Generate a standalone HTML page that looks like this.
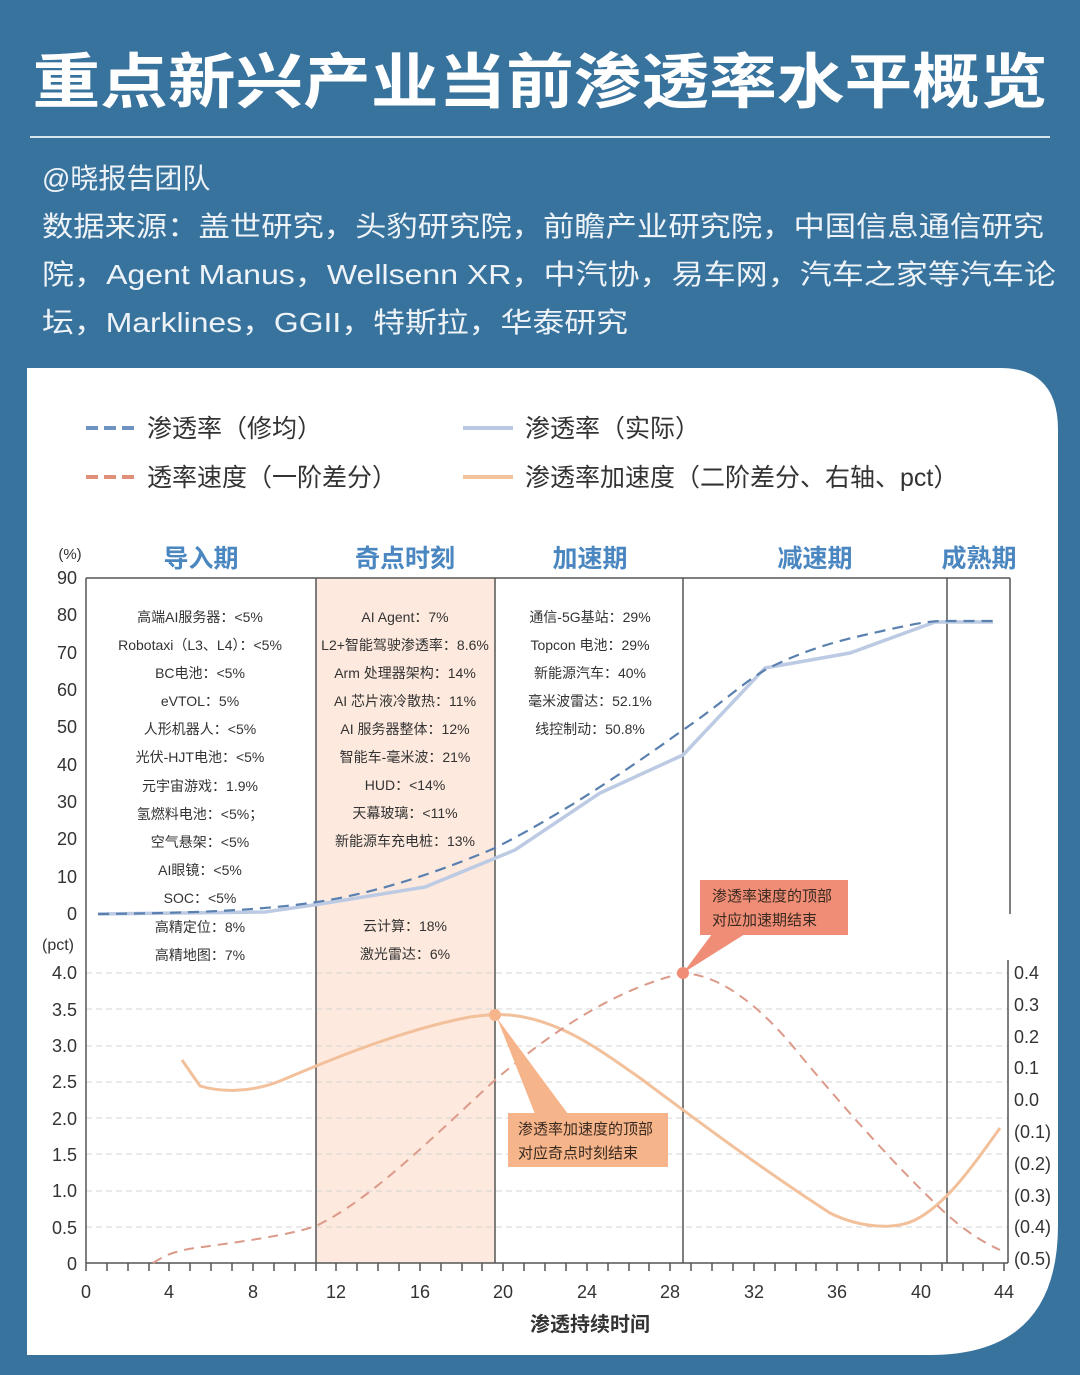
<!DOCTYPE html>
<html><head><meta charset="utf-8"><style>
html,body{margin:0;padding:0;background:#38739e;}
svg{display:block;font-family:"Liberation Sans","Noto Sans CJK SC",sans-serif;}
</style></head><body>
<svg width="1080" height="1375" viewBox="0 0 1080 1375" xmlns="http://www.w3.org/2000/svg">
<rect width="1080" height="1375" fill="#38739e"/>
<text x="540" y="103" text-anchor="middle" font-size="60" font-weight="bold" fill="#fff" textLength="1015" lengthAdjust="spacingAndGlyphs">重点新兴产业当前渗透率水平概览</text>
<line x1="30" y1="137" x2="1050" y2="137" stroke="#d8e4ee" stroke-width="2"/>
<g font-size="28" fill="#eef3f8">
<text x="42" y="188">@晓报告团队</text>
<text x="42" y="236" textLength="1002" lengthAdjust="spacingAndGlyphs">数据来源：盖世研究，头豹研究院，前瞻产业研究院，中国信息通信研究</text>
<text x="42" y="284" textLength="1014" lengthAdjust="spacingAndGlyphs">院，Agent Manus，Wellsenn XR，中汽协，易车网，汽车之家等汽车论</text>
<text x="42" y="332" textLength="586" lengthAdjust="spacingAndGlyphs">坛，Marklines，GGII，特斯拉，华泰研究</text>
</g>
<path d="M27 368 H1000 Q1058 368 1058 430 V1225 Q1058 1355 930 1355 H27 Z" fill="#fff"/>
<!-- legend -->
<g stroke-width="4">
<line x1="86" y1="428" x2="136" y2="428" stroke="#6f93c0" stroke-dasharray="12,6"/>
<line x1="86" y1="477" x2="136" y2="477" stroke="#e09078" stroke-dasharray="12,6"/>
<line x1="463" y1="428" x2="513" y2="428" stroke="#b9c8e2"/>
<line x1="463" y1="477" x2="513" y2="477" stroke="#f2c49e"/>
</g>
<g font-size="25" fill="#333">
<text x="147" y="437">渗透率（修均）</text>
<text x="147" y="486">透率速度（一阶差分）</text>
<text x="525" y="437">渗透率（实际）</text>
<text x="525" y="486">渗透率加速度（二阶差分、右轴、pct）</text>
</g>
<!-- phase titles -->
<g font-size="25" font-weight="bold" fill="#4a86c0" text-anchor="middle">
<text x="201" y="567">导入期</text><text x="405" y="567">奇点时刻</text><text x="590" y="567">加速期</text><text x="815" y="567">减速期</text><text x="979" y="567">成熟期</text>
</g>
<rect x="316" y="578" width="179" height="685" fill="#fde9dd"/>
<!-- grid lower -->
<g stroke="#d5d5d5" stroke-dasharray="6,4" stroke-width="1">
<line x1="86" y1="973" x2="1008" y2="973"/><line x1="86" y1="1009" x2="1008" y2="1009"/><line x1="86" y1="1046" x2="1008" y2="1046"/><line x1="86" y1="1082" x2="1008" y2="1082"/><line x1="86" y1="1118" x2="1008" y2="1118"/><line x1="86" y1="1154" x2="1008" y2="1154"/><line x1="86" y1="1191" x2="1008" y2="1191"/><line x1="86" y1="1227" x2="1008" y2="1227"/>
</g>
<!-- frame -->
<g stroke="#555" stroke-width="1.5" fill="none">
<line x1="86" y1="578" x2="1010" y2="578"/>
<line x1="1010" y1="578" x2="1010" y2="914"/>
<line x1="86" y1="578" x2="86" y2="1263"/>
<line x1="1008" y1="960" x2="1008" y2="1263"/>
<line x1="86" y1="1263" x2="1008" y2="1263"/>
<line x1="316" y1="578" x2="316" y2="1263"/>
<line x1="495" y1="578" x2="495" y2="1263"/>
<line x1="683" y1="578" x2="683" y2="1263"/>
<line x1="947" y1="578" x2="947" y2="1263"/>
</g>
<g stroke="#555" stroke-width="1.5" id="ticks">
<path d="M86 1263v8M107 1263v8M128 1263v8M149 1263v8M169 1263v8M190 1263v8M211 1263v8M232 1263v8M253 1263v8M274 1263v8M295 1263v8M316 1263v8M336 1263v8M357 1263v8M378 1263v8M399 1263v8M420 1263v8M441 1263v8M462 1263v8M482 1263v8M503 1263v8M524 1263v8M545 1263v8M566 1263v8M587 1263v8M608 1263v8M629 1263v8M649 1263v8M670 1263v8M691 1263v8M712 1263v8M733 1263v8M754 1263v8M775 1263v8M796 1263v8M816 1263v8M837 1263v8M858 1263v8M879 1263v8M900 1263v8M921 1263v8M942 1263v8M963 1263v8M983 1263v8M1004 1263v8"/>
</g>
<!-- axis labels -->
<g font-size="18" fill="#333" text-anchor="end">
<text x="77" y="584">90</text><text x="77" y="621">80</text><text x="77" y="659">70</text><text x="77" y="696">60</text><text x="77" y="733">50</text><text x="77" y="771">40</text><text x="77" y="808">30</text><text x="77" y="845">20</text><text x="77" y="883">10</text><text x="77" y="920">0</text>
<text x="77" y="979">4.0</text><text x="77" y="1016">3.5</text><text x="77" y="1052">3.0</text><text x="77" y="1088">2.5</text><text x="77" y="1125">2.0</text><text x="77" y="1161">1.5</text><text x="77" y="1197">1.0</text><text x="77" y="1234">0.5</text><text x="77" y="1270">0</text>
</g>
<text x="70" y="559" font-size="15" fill="#333" text-anchor="middle">(%)</text>
<text x="58" y="950" font-size="16" fill="#333" text-anchor="middle">(pct)</text>
<g font-size="18" fill="#333">
<text x="1014" y="979">0.4</text><text x="1014" y="1011">0.3</text><text x="1014" y="1043">0.2</text><text x="1014" y="1074">0.1</text><text x="1014" y="1106">0.0</text><text x="1014" y="1138">(0.1)</text><text x="1014" y="1170">(0.2)</text><text x="1014" y="1202">(0.3)</text><text x="1014" y="1233">(0.4)</text><text x="1014" y="1265">(0.5)</text>
</g>
<g font-size="18" fill="#333" text-anchor="middle">
<text x="86" y="1298">0</text><text x="169" y="1298">4</text><text x="253" y="1298">8</text><text x="336" y="1298">12</text><text x="420" y="1298">16</text><text x="503" y="1298">20</text><text x="587" y="1298">24</text><text x="670" y="1298">28</text><text x="754" y="1298">32</text><text x="837" y="1298">36</text><text x="921" y="1298">40</text><text x="1004" y="1298">44</text>
</g>
<text x="590" y="1331" font-size="20" font-weight="bold" fill="#333" text-anchor="middle">渗透持续时间</text>
<!-- list text -->
<g font-size="14" fill="#333" text-anchor="middle">
<text x="200" y="622">高端AI服务器：&lt;5%</text>
<text x="200" y="650">Robotaxi（L3、L4）：&lt;5%</text>
<text x="200" y="678">BC电池：&lt;5%</text>
<text x="200" y="706">eVTOL：5%</text>
<text x="200" y="734">人形机器人：&lt;5%</text>
<text x="200" y="762">光伏-HJT电池：&lt;5%</text>
<text x="200" y="791">元宇宙游戏：1.9%</text>
<text x="200" y="819">氢燃料电池：&lt;5%；</text>
<text x="200" y="847">空气悬架：&lt;5%</text>
<text x="200" y="875">AI眼镜：&lt;5%</text>
<text x="200" y="903">SOC：&lt;5%</text>
<text x="200" y="932">高精定位：8%</text>
<text x="200" y="960">高精地图：7%</text>
<text x="405" y="622">AI Agent：7%</text>
<text x="405" y="650">L2+智能驾驶渗透率：8.6%</text>
<text x="405" y="678">Arm 处理器架构：14%</text>
<text x="405" y="706">AI 芯片液冷散热：11%</text>
<text x="405" y="734">AI 服务器整体：12%</text>
<text x="405" y="762">智能车-毫米波：21%</text>
<text x="405" y="790">HUD：&lt;14%</text>
<text x="405" y="818">天幕玻璃：&lt;11%</text>
<text x="405" y="846">新能源车充电桩：13%</text>
<text x="405" y="931">云计算：18%</text>
<text x="405" y="959">激光雷达：6%</text>
<text x="590" y="622">通信-5G基站：29%</text>
<text x="590" y="650">Topcon 电池：29%</text>
<text x="590" y="678">新能源汽车：40%</text>
<text x="590" y="706">毫米波雷达：52.1%</text>
<text x="590" y="734">线控制动：50.8%</text>
</g>
<!-- curves upper -->
<path d="M98 914 L265 912 L320 904 L425 887 L515 850 L600 793 L683 755 L765 668 L850 653 L935 622 L993 622" fill="none" stroke="#bccbe3" stroke-width="3.5"/>
<path d="M98 914 C200 913 260 910 310 903 C360 896 420 880 495 848 C560 815 620 775 683 730 C720 705 740 685 765 670 C800 652 830 643 860 636 C900 627 920 622 940 621 L993 621" fill="none" stroke="#5a80b0" stroke-width="2.2" stroke-dasharray="11,7"/>
<!-- lower curves -->
<path d="M182 1060 L200 1086 C220 1092 250 1093 280 1081 C320 1064 400 1030 470 1017 C485 1015 495 1014 510 1015 C560 1020 600 1050 640 1078 C683 1110 760 1168 830 1213 C860 1228 895 1230 915 1220 C945 1205 970 1170 1000 1128" fill="none" stroke="#f2c09a" stroke-width="3"/>
<path d="M153 1263 C165 1255 175 1251 195 1248 C240 1242 290 1235 316 1226 C370 1200 430 1140 495 1080 C560 1025 620 988 683 973 C720 975 760 1005 800 1055 C850 1115 900 1170 940 1208 C965 1232 985 1243 1000 1250" fill="none" stroke="#dc9a8a" stroke-width="2" stroke-dasharray="10,7"/>
<!-- callouts -->
<polygon points="683,973 712,934 745,934" fill="#ef8d76"/>
<rect x="700" y="880" width="148" height="55" fill="#ef8d76"/>
<circle cx="683" cy="973" r="6" fill="#ef8d76"/>
<text x="712" y="901" font-size="15" fill="#3a2a20">渗透率速度的顶部</text>
<text x="712" y="925" font-size="15" fill="#3a2a20">对应加速期结束</text>
<polygon points="497,1018 535,1114 568,1114" fill="#f5b48a"/>
<rect x="508" y="1113" width="160" height="54" fill="#f5b48a"/>
<circle cx="495" cy="1015" r="6" fill="#f5b48a"/>
<text x="518" y="1134" font-size="15" fill="#3a2a20">渗透率加速度的顶部</text>
<text x="518" y="1158" font-size="15" fill="#3a2a20">对应奇点时刻结束</text>
</svg>
</body></html>
